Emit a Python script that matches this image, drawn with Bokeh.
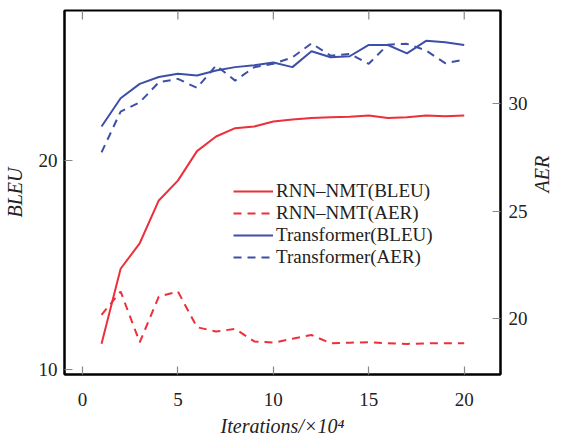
import math
import numpy as np
from bokeh.plotting import figure
from bokeh.models import Range1d, LinearAxis, Legend, LegendItem, FixedTicker
from bokeh.embed import file_html
from bokeh.resources import INLINE

iterations = list(range(1, 21))
rnn_bleu = [11.23, 14.82, 16.04, 18.09, 19.04, 20.45, 21.15, 21.55, 21.63, 21.87,
            21.96, 22.04, 22.07, 22.10, 22.15, 22.04, 22.07, 22.15, 22.12, 22.15]
rnn_aer = [20.17, 21.26, 18.90, 21.02, 21.26, 19.60, 19.40, 19.52, 18.94, 18.88,
           19.06, 19.24, 18.85, 18.88, 18.90, 18.85, 18.82, 18.85, 18.85, 18.85]
tr_bleu = [21.63, 22.98, 23.67, 24.00, 24.15, 24.07, 24.31, 24.47, 24.56, 24.69,
           24.47, 25.23, 24.94, 24.99, 25.53, 25.53, 25.13, 25.73, 25.66, 25.53]
tr_aer = [27.73, 29.63, 30.06, 30.99, 31.15, 30.73, 31.77, 31.07, 31.69, 31.85,
          32.15, 32.80, 32.23, 32.31, 31.85, 32.74, 32.78, 32.47, 31.88, 32.05]

x_ticks = [0, 5, 10, 15, 20]
bleu_ticks = [10, 20]
aer_ticks = [20, 25, 30]
legend_labels = ["RNN–NMT(BLEU)", "RNN–NMT(AER)", "Transformer(BLEU)", "Transformer(AER)"]

RED = "#EC2F3A"
BLUE = "#3D4FA6"
FONT = "Liberation Serif"
TXT = "#222222"

p = figure(frame_width=436, frame_height=364, output_backend="svg", toolbar_location=None,
           x_range=Range1d(-0.94, 21.9), y_range=Range1d(9.76, 27.18),
           min_border_left=56, min_border_right=10, min_border_top=10, min_border_bottom=10)
p.extra_y_ranges = {"aer": Range1d(17.4, 34.33)}
p.grid.visible = False
p.outline_line_color = "black"
p.outline_line_width = 2

r1 = p.line(iterations, rnn_bleu, color=RED, line_width=2)
r2 = p.line(iterations, rnn_aer, color=RED, line_width=2, line_dash="8 6", y_range_name="aer")
r3 = p.line(iterations, tr_bleu, color=BLUE, line_width=2)
r4 = p.line(iterations, tr_aer, color=BLUE, line_width=2, line_dash="8 6", y_range_name="aer")

# top tick marks (mirrored x ticks, pointing inward)
p.ray(x=x_ticks, y=[p.y_range.end] * len(x_ticks), length=9, length_units="screen",
      angle=-np.pi / 2, line_color="#888888", line_width=1.2)

def style_axis(ax):
    ax.axis_line_color = "black"
    ax.axis_line_width = 2
    ax.major_tick_in = 8
    ax.major_tick_out = 0
    ax.minor_tick_line_color = None
    ax.major_tick_line_color = "#888888"
    ax.major_tick_line_width = 1.2
    ax.major_label_text_font = FONT
    ax.major_label_text_font_size = "19px"
    ax.major_label_text_color = TXT
    ax.axis_label_text_font = FONT
    ax.axis_label_text_font_size = "20px"
    ax.axis_label_text_font_style = "italic"
    ax.axis_label_text_color = TXT

xa = p.xaxis[0]
style_axis(xa)
xa.ticker = FixedTicker(ticks=x_ticks)
xa.major_label_standoff = 18
xa.axis_label = "Iterations/×10⁴"
xa.axis_label_standoff = 6

ya = p.yaxis[0]
style_axis(ya)
ya.ticker = FixedTicker(ticks=bleu_ticks)
ya.axis_label = "BLEU"
ya.major_label_standoff = 7
ya.axis_label_standoff = 10

ra = LinearAxis(y_range_name="aer", ticker=FixedTicker(ticks=aer_ticks), axis_label="AER")
style_axis(ra)
ra.major_label_standoff = 8
ra.axis_label_standoff = 11
if "axis_label_orientation" in ra.properties():
    ra.axis_label_orientation = math.pi / 2
p.add_layout(ra, "right")

legend = Legend(items=[LegendItem(label=legend_labels[0], renderers=[r1]),
                       LegendItem(label=legend_labels[1], renderers=[r2]),
                       LegendItem(label=legend_labels[2], renderers=[r3]),
                       LegendItem(label=legend_labels[3], renderers=[r4])],
                location=(169, 106), background_fill_alpha=0, border_line_color=None,
                padding=0, margin=0, spacing=0, glyph_width=40, glyph_height=20,
                label_height=20, label_standoff=3, label_text_font=FONT,
                label_text_font_size="19px", label_text_color=TXT)
p.add_layout(legend, "center")

open("out.html", "w").write(file_html(p, INLINE))
